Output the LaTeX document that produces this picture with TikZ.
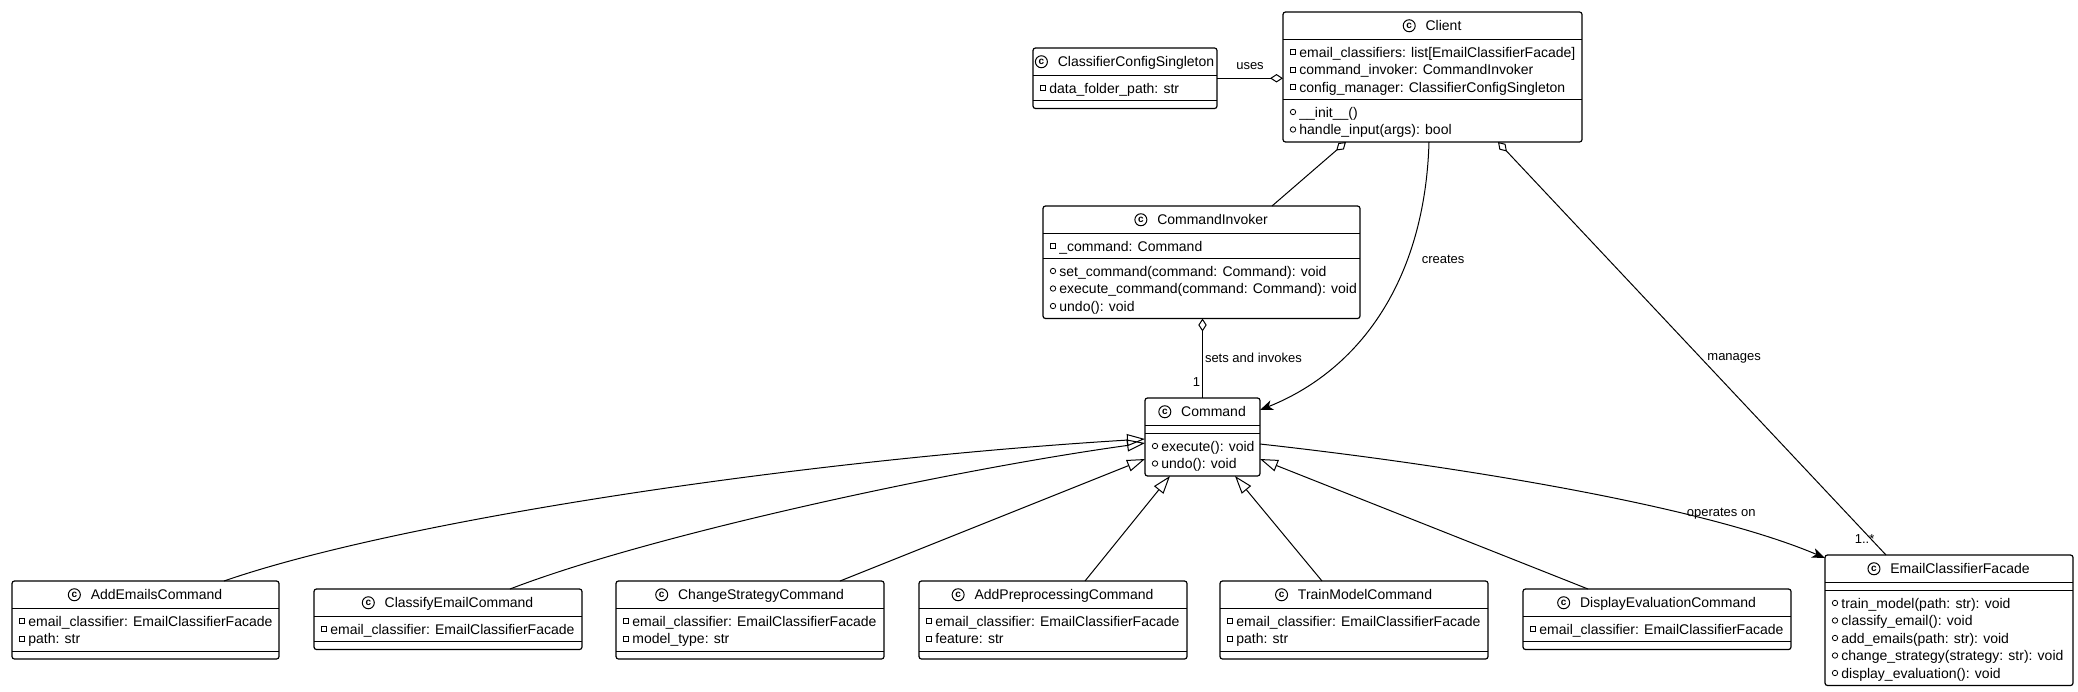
\documentclass[tikz,border=0pt]{standalone}
\usepackage{fontspec}
\setmainfont{Liberation Sans}
\usetikzlibrary{arrows.meta,calc}

\tikzset{
  umlbox/.style={draw, line width=0.6pt, rounded corners=1.25pt, inner sep=0pt, outer sep=0pt},
  titletext/.style={inner sep=0pt, text height=6pt, text depth=1pt, font=\fontsize{7pt}{8pt}\selectfont},
  rowtext/.style={titletext, anchor=west},
  edgelabel/.style={inner sep=0pt, font=\fontsize{6.5pt}{7.5pt}\selectfont},
  link/.style={line width=0.5pt},
  aggr/.style={link, {Diamond[open, length=6.5pt, width=4.2pt]}-},
  inherit/.style={link, -{Triangle[open, length=9pt, width=6pt]}},
  assoc/.style={link, -{Stealth[length=6.5pt, width=5pt, inset=1.8pt]}}
}

% #1 name, #2 title, #3 left, #4 top, #5 width, #6/#7 fields, #8/#9 methods
\newcommand{\umlclass}[9]{
  \pgfmathsetmacro{\ya}{#4+27.5}
  \pgfmathsetmacro{\ym}{\ya+(#6==0 ? 8 : 7.5+17.5*#6)}
  \pgfmathsetmacro{\yb}{\ym+(#8==0 ? 8 : 7.5+17.5*#8)}
  \pgfmathsetmacro{\bw}{#5/2}
  \pgfmathsetmacro{\bh}{(\yb-#4)/2}
  \node[umlbox, anchor=north west, minimum width=\bw pt, minimum height=\bh pt] (#1) at (#3,#4) {};
  \draw[line width=0.5pt] (#3,\ya) -- ++(#5,0) (#3,\ym) -- ++(#5,0);
  \node[titletext] (#1-t) at (#3+#5/2+11,#4+13.75) {#2};
  \draw[line width=0.5pt] ([xshift=-8pt]#1-t.west) circle[radius=3pt]
    node[inner sep=0pt, font=\fontsize{5pt}{5pt}\selectfont\bfseries] {c};
  \ifnum#6>0
    \foreach \s [count=\i] in {#7}
      \draw[line width=0.4pt] (#3+7.5,\ya+10+17.5*\i-17.5) rectangle ++(5,5)
        node[rowtext] at (#3+16,\ya+12.5+17.5*\i-17.5) {\s};
  \fi
  \ifnum#8>0
    \foreach \s [count=\i] in {#9}
      \draw[line width=0.4pt] (#3+10,\ym+12.5+17.5*\i-17.5) circle[radius=1.35pt]
        node[rowtext] at (#3+16,\ym+12.5+17.5*\i-17.5) {\s};
  \fi
}

\begin{document}
\begin{tikzpicture}[x=0.5pt, y=-0.5pt]
  \useasboundingbox (0,0) rectangle (2078,691);

  \umlclass{cfg}{ClassifierConfigSingleton}{1033}{48}{184}{1}{data\_folder\_path: str}{0}{}
  \umlclass{client}{Client}{1283}{12}{299}{3}{email\_classifiers: list[EmailClassifierFacade],command\_invoker: CommandInvoker,config\_manager: ClassifierConfigSingleton}{2}{\_\_init\_\_(),handle\_input(args): bool}
  \umlclass{inv}{CommandInvoker}{1043}{206}{317}{1}{\_command: Command}{3}{set\_command(command: Command): void,execute\_command(command: Command): void,undo(): void}
  \umlclass{cmd}{Command}{1145}{398}{115}{0}{}{2}{execute(): void,undo(): void}
  \umlclass{facade}{EmailClassifierFacade}{1825}{555}{248}{0}{}{5}{train\_model(path: str): void,classify\_email(): void,add\_emails(path: str): void,change\_strategy(strategy: str): void,display\_evaluation(): void}
  \umlclass{addemails}{AddEmailsCommand}{12}{581}{267}{2}{email\_classifier: EmailClassifierFacade,path: str}{0}{}
  \umlclass{classify}{ClassifyEmailCommand}{314}{589}{268}{1}{email\_classifier: EmailClassifierFacade}{0}{}
  \umlclass{strategy}{ChangeStrategyCommand}{616}{581}{268}{2}{email\_classifier: EmailClassifierFacade,model\_type: str}{0}{}
  \umlclass{preproc}{AddPreprocessingCommand}{919}{581}{268}{2}{email\_classifier: EmailClassifierFacade,feature: str}{0}{}
  \umlclass{train}{TrainModelCommand}{1220}{581}{268}{2}{email\_classifier: EmailClassifierFacade,path: str}{0}{}
  \umlclass{display}{DisplayEvaluationCommand}{1523}{589}{268}{1}{email\_classifier: EmailClassifierFacade}{0}{}

  \draw[aggr] (cfg.east -| client.west) -- (cfg.east)
    node[edgelabel, midway, above=4pt] {uses};
  \draw[aggr] ($(client.south west)+(63,0)$) -- ($(inv.north west)+(229,0)$);
  \draw[assoc] ($(client.south west)+(146,0)$) .. controls (1425,280) and (1360,370) .. ($(cmd.north east)+(0,12)$)
    node[edgelabel, pos=0.32, right=7pt] {creates};
  \draw[aggr] ($(client.south west)+(215,0)$) -- ($(facade.north west)+(61,0)$)
    node[edgelabel, pos=0.523, right=3pt] {manages}
    node[edgelabel, pos=0.961, anchor=east, xshift=2pt] {1..*};
  \draw[aggr] (inv.south -| cmd.north) -- (cmd.north)
    node[edgelabel, midway, right=1pt] {sets and invokes}
    node[edgelabel, pos=0.8, left=1pt] {1};

  \draw[inherit] ($(addemails.north west)+(212,0)$) .. controls (400,520) and (800,460) .. ($(cmd.north west)+(0,41)$);
  \draw[inherit] ($(classify.north west)+(196,0)$) .. controls (650,535) and (950,470) .. ($(cmd.north west)+(0,45)$);
  \draw[inherit] ($(strategy.north west)+(224,0)$) -- ($(cmd.north west)+(0,61)$);
  \draw[inherit] ($(preproc.north west)+(166,0)$) -- ($(cmd.south west)+(25,0)$);
  \draw[inherit] ($(train.north west)+(102,0)$) -- ($(cmd.south west)+(90,0)$);
  \draw[inherit] ($(display.north west)+(65,0)$) -- ($(cmd.north east)+(0,61)$);

  \draw[assoc] ($(cmd.north east)+(0,46)$) .. controls (1450,465) and (1700,505) .. ($(facade.north west)+(0,3)$)
    node[edgelabel, pos=0.77, above=2pt] {operates on};
\end{tikzpicture}
\end{document}
